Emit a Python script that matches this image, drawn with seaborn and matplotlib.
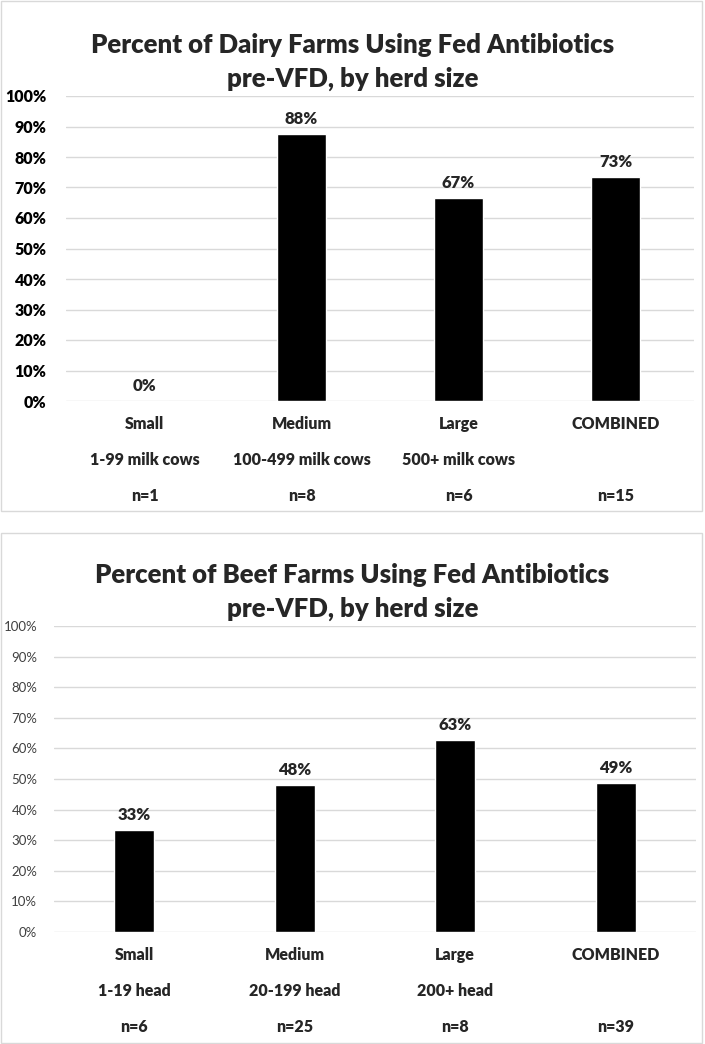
import matplotlib
matplotlib.use('Agg')
import matplotlib.pyplot as plt
import seaborn as sns
import pandas as pd
from matplotlib.patches import Rectangle

# data
categories = ['Small', 'Medium', 'Large', 'COMBINED']
dairy_sizes = ['1-99 milk cows', '100-499 milk cows', '500+ milk cows', '']
dairy_n = ['n=1', 'n=8', 'n=6', 'n=15']
dairy_pct = [0.0, 87.5, 66.7, 73.3]

beef_sizes = ['1-19 head', '20-199 head', '200+ head', '']
beef_n = ['n=6', 'n=25', 'n=8', 'n=39']
beef_pct = [33.3, 48.0, 62.6, 48.7]

yticks = list(range(0, 101, 10))

sns.set_style('white')
plt.rcParams['font.family'] = ['Lato', 'DejaVu Sans']

BOLD = 'heavy'

fig = plt.figure(figsize=(7.05, 10.44), dpi=100)
W, H = 705, 1044

# panel borders
for (x0, y0, x1, y1) in [(1, 1, 702, 511), (1, 533, 702, 1043)]:
    fig.patches.append(Rectangle((x0 / W, 1 - y1 / H), (x1 - x0) / W, (y1 - y0) / H,
                                 transform=fig.transFigure, fill=False,
                                 edgecolor='#d9d9d9', linewidth=1))


def draw_panel(ax, title, title_y, vals, sizes, ns, barw, tick_bold, tick_size):
    df = pd.DataFrame({'cat': categories, 'pct': vals})
    sns.barplot(data=df, x='cat', y='pct', color='black', width=barw,
                saturation=1, ax=ax, zorder=3)
    ax.set_ylim(0, 100)
    ax.set_yticks(yticks)
    ax.set_yticklabels([f'{t}%' for t in yticks],
                       fontweight=BOLD if tick_bold else 'normal',
                       fontsize=tick_size, color='black' if tick_bold else '#404040')
    ax.yaxis.grid(True, color='#d9d9d9', linewidth=1, zorder=0)
    ax.set_axisbelow(True)
    ax.tick_params(axis='y', length=0, pad=14 if tick_bold else 12)
    ax.tick_params(axis='x', length=0)
    ax.set_xticklabels([])
    ax.set_xlabel('')
    ax.set_ylabel('')
    for s in ax.spines.values():
        s.set_visible(False)
    for i, v in enumerate(vals):
        ax.annotate(f'{v:.0f}%', xy=(i, v), xytext=(0, 5), textcoords='offset points',
                    ha='center', va='bottom', fontsize=12, fontweight=BOLD)
    for row, (labels, off) in enumerate([(categories, 16.6), (sizes, 42.5), (ns, 68.4)]):
        for i, lab in enumerate(labels):
            ax.annotate(lab, xy=(i, 0), xycoords=('data', 'axes fraction'),
                        xytext=(0, -off), textcoords='offset points',
                        ha='center', va='center', fontsize=11.5, fontweight=BOLD)
    fig.text(0.5, 1 - title_y / H, title, ha='center', va='center',
             fontsize=18.5, fontweight=BOLD, linespacing=1.45)


ax1 = fig.add_axes([66 / W, 1 - 401 / H, 628 / W, 305 / H])
draw_panel(ax1, 'Percent of Dairy Farms Using Fed Antibiotics\npre-VFD, by herd size', 62,
           dairy_pct, dairy_sizes, dairy_n, 0.31, True, 11.5)

ax2 = fig.add_axes([54 / W, 1 - 932 / H, 642 / W, 306 / H])
draw_panel(ax2, 'Percent of Beef Farms Using Fed Antibiotics\npre-VFD, by herd size', 592,
           beef_pct, beef_sizes, beef_n, 0.25, False, 9.5)

fig.savefig('out.png', dpi=100)
